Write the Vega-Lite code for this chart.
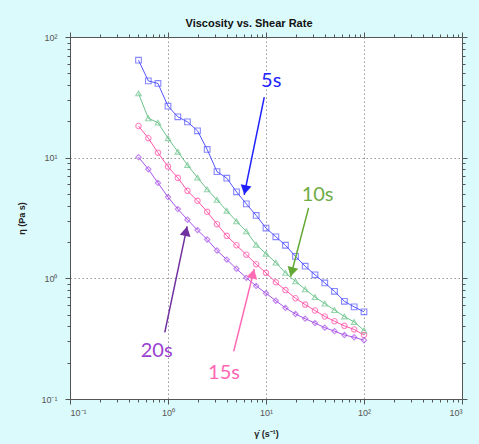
{
  "$schema": "https://vega.github.io/schema/vega-lite/v6.json",
  "autosize": "none",
  "width": 392,
  "height": 362,
  "padding": {"left": 70, "top": 37, "right": 17, "bottom": 45},
  "background": "#dbfafc",
  "title": {"text": "Viscosity vs. Shear Rate", "font": "Liberation Sans", "fontSize": 11, "fontWeight": "bold", "color": "#111", "anchor": "middle", "baseline": "alphabetic", "offset": -6, "dx": -17},
  "config": {
    "view": {"fill": "white", "stroke": "#555", "strokeWidth": 1},
    "axis": {"labelFont": "Liberation Sans", "titleFont": "Liberation Sans", "labelColor": "#555", "labelFontSize": 9, "titleFontSize": 9, "titleFontWeight": "bold", "titleColor": "#222", "domainColor": "#555", "tickColor": "#555", "gridColor": "#999", "gridDash": [1.5, 2.5]}
  },
  "datasets": {
    "visc": [
      {"rate": 0.5, "t": "5s", "eta": 64.2}, {"rate": 0.63, "t": "5s", "eta": 43.3}, {"rate": 0.79, "t": "5s", "eta": 41.2}, {"rate": 1, "t": "5s", "eta": 26.7}, {"rate": 1.26, "t": "5s", "eta": 21.8}, {"rate": 1.58, "t": "5s", "eta": 19.8}, {"rate": 2, "t": "5s", "eta": 16.7}, {"rate": 2.51, "t": "5s", "eta": 11.7}, {"rate": 3.16, "t": "5s", "eta": 7.66}, {"rate": 3.98, "t": "5s", "eta": 6.76}, {"rate": 5, "t": "5s", "eta": 5.21}, {"rate": 6.3, "t": "5s", "eta": 4.14}, {"rate": 7.94, "t": "5s", "eta": 3.32}, {"rate": 10, "t": "5s", "eta": 2.61}, {"rate": 12.6, "t": "5s", "eta": 2.21}, {"rate": 15.8, "t": "5s", "eta": 1.88}, {"rate": 20, "t": "5s", "eta": 1.52}, {"rate": 25.1, "t": "5s", "eta": 1.26}, {"rate": 31.6, "t": "5s", "eta": 1.07}, {"rate": 39.8, "t": "5s", "eta": 0.916}, {"rate": 50, "t": "5s", "eta": 0.781}, {"rate": 63.1, "t": "5s", "eta": 0.645}, {"rate": 79.4, "t": "5s", "eta": 0.58}, {"rate": 100, "t": "5s", "eta": 0.528},
      {"rate": 0.5, "t": "10s", "eta": 34.1}, {"rate": 0.63, "t": "10s", "eta": 21.2}, {"rate": 0.79, "t": "10s", "eta": 19.5}, {"rate": 1, "t": "10s", "eta": 14.5}, {"rate": 1.26, "t": "10s", "eta": 11.2}, {"rate": 1.58, "t": "10s", "eta": 8.7}, {"rate": 2, "t": "10s", "eta": 6.83}, {"rate": 2.51, "t": "10s", "eta": 5.46}, {"rate": 3.16, "t": "10s", "eta": 4.47}, {"rate": 3.98, "t": "10s", "eta": 3.63}, {"rate": 5, "t": "10s", "eta": 2.97}, {"rate": 6.3, "t": "10s", "eta": 2.45}, {"rate": 7.94, "t": "10s", "eta": 1.9}, {"rate": 10, "t": "10s", "eta": 1.6}, {"rate": 12.6, "t": "10s", "eta": 1.35}, {"rate": 15.8, "t": "10s", "eta": 1.11}, {"rate": 20, "t": "10s", "eta": 0.944}, {"rate": 25.1, "t": "10s", "eta": 0.811}, {"rate": 31.6, "t": "10s", "eta": 0.699}, {"rate": 39.8, "t": "10s", "eta": 0.618}, {"rate": 50, "t": "10s", "eta": 0.546}, {"rate": 63.1, "t": "10s", "eta": 0.483}, {"rate": 79.4, "t": "10s", "eta": 0.435}, {"rate": 100, "t": "10s", "eta": 0.37},
      {"rate": 0.5, "t": "15s", "eta": 18.3}, {"rate": 0.63, "t": "15s", "eta": 14.5}, {"rate": 0.79, "t": "15s", "eta": 11.0}, {"rate": 1, "t": "15s", "eta": 8.43}, {"rate": 1.26, "t": "15s", "eta": 6.8}, {"rate": 1.58, "t": "15s", "eta": 5.31}, {"rate": 2, "t": "15s", "eta": 4.39}, {"rate": 2.51, "t": "15s", "eta": 3.56}, {"rate": 3.16, "t": "15s", "eta": 2.81}, {"rate": 3.98, "t": "15s", "eta": 2.25}, {"rate": 5, "t": "15s", "eta": 1.88}, {"rate": 6.3, "t": "15s", "eta": 1.57}, {"rate": 7.94, "t": "15s", "eta": 1.31}, {"rate": 10, "t": "15s", "eta": 1.11}, {"rate": 12.6, "t": "15s", "eta": 0.927}, {"rate": 15.8, "t": "15s", "eta": 0.799}, {"rate": 20, "t": "15s", "eta": 0.684}, {"rate": 25.1, "t": "15s", "eta": 0.606}, {"rate": 31.6, "t": "15s", "eta": 0.541}, {"rate": 39.8, "t": "15s", "eta": 0.483}, {"rate": 50, "t": "15s", "eta": 0.441}, {"rate": 63.1, "t": "15s", "eta": 0.404}, {"rate": 79.4, "t": "15s", "eta": 0.377}, {"rate": 100, "t": "15s", "eta": 0.339},
      {"rate": 0.5, "t": "20s", "eta": 10.1}, {"rate": 0.63, "t": "20s", "eta": 8.02}, {"rate": 0.79, "t": "20s", "eta": 6.18}, {"rate": 1, "t": "20s", "eta": 4.71}, {"rate": 1.26, "t": "20s", "eta": 3.75}, {"rate": 1.58, "t": "20s", "eta": 3.06}, {"rate": 2, "t": "20s", "eta": 2.51}, {"rate": 2.51, "t": "20s", "eta": 2.1}, {"rate": 3.16, "t": "20s", "eta": 1.7}, {"rate": 3.98, "t": "20s", "eta": 1.43}, {"rate": 5, "t": "20s", "eta": 1.2}, {"rate": 6.3, "t": "20s", "eta": 1.01}, {"rate": 7.94, "t": "20s", "eta": 0.865}, {"rate": 10, "t": "20s", "eta": 0.752}, {"rate": 12.6, "t": "20s", "eta": 0.652}, {"rate": 15.8, "t": "20s", "eta": 0.569}, {"rate": 20, "t": "20s", "eta": 0.506}, {"rate": 25.1, "t": "20s", "eta": 0.463}, {"rate": 31.6, "t": "20s", "eta": 0.426}, {"rate": 39.8, "t": "20s", "eta": 0.39}, {"rate": 50, "t": "20s", "eta": 0.365}, {"rate": 63.1, "t": "20s", "eta": 0.339}, {"rate": 79.4, "t": "20s", "eta": 0.325}, {"rate": 100, "t": "20s", "eta": 0.307}
    ],
    "labels": [
      {"t": "5s", "x": 11.3, "y": 43.0},
      {"t": "10s", "x": 33.6, "y": 4.92},
      {"t": "15s", "x": 3.73, "y": 0.163},
      {"t": "20s", "x": 0.766, "y": 0.248}
    ],
    "arrows": [
      {"t": "5s", "x": 9.6, "y": 31.7, "x2": 5.99, "y2": 4.92, "hx": 6.13, "hy": 5.4, "angle": 191.5},
      {"t": "10s", "x": 27.2, "y": 3.84, "x2": 17.8, "y2": 1.03, "hx": 18.3, "hy": 1.13, "angle": 194.7},
      {"t": "15s", "x": 4.68, "y": 0.248, "x2": 7.59, "y2": 1.196, "hx": 7.37, "hy": 1.09, "angle": 13.9},
      {"t": "20s", "x": 0.927, "y": 0.356, "x2": 1.567, "y2": 2.7, "hx": 1.53, "hy": 2.46, "angle": 11.8}
    ]
  },
  "resolve": {"scale": {"color": "independent"}, "axis": {"x": "independent", "y": "independent"}},
  "layer": [
    {
      "data": {"name": "visc"},
      "mark": {"type": "line", "strokeWidth": 1, "clip": true},
      "encoding": {
        "x": {"field": "rate", "type": "quantitative", "scale": {"type": "log", "domain": [0.1, 1000], "nice": false},
          "axis": {"orient": "top", "labels": false, "grid": false, "title": null, "domain": false,
            "values": [0.1,0.2,0.3,0.4,0.5,0.6,0.7,0.8,0.9,1,2,3,4,5,6,7,8,9,10,20,30,40,50,60,70,80,90,100,200,300,400,500,600,700,800,900,1000],
            "tickSize": {"condition": {"test": "indexof([0.1,1,10,100,1000], datum.value) >= 0", "value": 5}, "value": 3}}},
        "y": {"field": "eta", "type": "quantitative", "scale": {"type": "log", "domain": [0.1, 100], "nice": false},
          "axis": {"orient": "right", "labels": false, "grid": false, "title": null, "domain": false,
            "values": [0.1,0.2,0.3,0.4,0.5,0.6,0.7,0.8,0.9,1,2,3,4,5,6,7,8,9,10,20,30,40,50,60,70,80,90,100],
            "tickSize": {"condition": {"test": "indexof([0.1,1,10,100], datum.value) >= 0", "value": 5}, "value": 3}}},
        "color": {"field": "t", "type": "nominal", "scale": {"domain": ["5s", "10s", "15s", "20s"], "range": ["#5555ff", "#6cc48c", "#ff55aa", "#a855e8"]}, "legend": null},
        "order": {"field": "rate", "type": "quantitative"}
      }
    },
    {
      "data": {"name": "visc"},
      "mark": {"type": "point", "filled": false, "strokeWidth": 1.1},
      "encoding": {
        "x": {"field": "rate", "type": "quantitative", "scale": {"type": "log", "domain": [0.1, 1000], "nice": false},
          "axis": {"orient": "bottom", "title": "γ̇ (s⁻¹)", "titlePadding": 12, "labelPadding": 4, "grid": true,
            "values": [0.1,0.2,0.3,0.4,0.5,0.6,0.7,0.8,0.9,1,2,3,4,5,6,7,8,9,10,20,30,40,50,60,70,80,90,100,200,300,400,500,600,700,800,900,1000],
            "labelExpr": "datum.value == 0.1 ? '10⁻¹' : datum.value == 1 ? '10⁰' : datum.value == 10 ? '10¹' : datum.value == 100 ? '10²' : datum.value == 1000 ? '10³' : ''",
            "tickSize": {"condition": {"test": "indexof([0.1,1,10,100,1000], datum.value) >= 0", "value": 5}, "value": 3},
            "gridOpacity": {"condition": {"test": "indexof([1,10,100], datum.value) >= 0", "value": 1}, "value": 0}}},
        "y": {"field": "eta", "type": "quantitative", "scale": {"type": "log", "domain": [0.1, 100], "nice": false},
          "axis": {"orient": "left", "title": "η (Pa s)", "titlePadding": 14, "labelPadding": 8, "grid": true,
            "values": [0.1,0.2,0.3,0.4,0.5,0.6,0.7,0.8,0.9,1,2,3,4,5,6,7,8,9,10,20,30,40,50,60,70,80,90,100],
            "labelExpr": "datum.value == 0.1 ? '10⁻¹' : datum.value == 1 ? '10⁰' : datum.value == 10 ? '10¹' : datum.value == 100 ? '10²' : ''",
            "tickSize": {"condition": {"test": "indexof([0.1,1,10,100], datum.value) >= 0", "value": 5}, "value": 3},
            "gridOpacity": {"condition": {"test": "indexof([1,10], datum.value) >= 0", "value": 1}, "value": 0}}},
        "color": {"field": "t", "type": "nominal", "scale": {"domain": ["5s", "10s", "15s", "20s"], "range": ["#5555ff", "#6cc48c", "#ff55aa", "#a855e8"]}, "legend": null},
        "shape": {"field": "t", "type": "nominal", "scale": {"domain": ["5s", "10s", "15s", "20s"], "range": ["square", "triangle-up", "circle", "diamond"]}, "legend": null},
        "size": {"field": "t", "type": "nominal", "scale": {"domain": ["5s", "10s", "15s", "20s"], "range": [32, 28, 28, 20]}, "legend": null}
      }
    },
    {
      "data": {"name": "arrows"},
      "mark": {"type": "rule", "strokeWidth": 1.5},
      "encoding": {
        "x": {"field": "x", "type": "quantitative", "axis": null},
        "y": {"field": "y", "type": "quantitative", "axis": null},
        "x2": {"field": "x2"},
        "y2": {"field": "y2"},
        "color": {"field": "t", "type": "nominal", "scale": {"domain": ["5s", "10s", "15s", "20s"], "range": ["#2020ff", "#62a832", "#ff6ab5", "#7030a0"]}, "legend": null}
      }
    },
    {
      "data": {"name": "arrows"},
      "mark": {"type": "point", "shape": "triangle-up", "filled": true, "size": 120, "opacity": 1},
      "encoding": {
        "x": {"field": "hx", "type": "quantitative", "axis": null},
        "y": {"field": "hy", "type": "quantitative", "axis": null},
        "angle": {"field": "angle", "type": "quantitative", "scale": null},
        "color": {"field": "t", "type": "nominal", "scale": {"domain": ["5s", "10s", "15s", "20s"], "range": ["#2020ff", "#62a832", "#ff6ab5", "#7030a0"]}, "legend": null}
      }
    },
    {
      "data": {"name": "labels"},
      "mark": {"type": "text", "font": "Lato", "fontSize": 20, "align": "center", "baseline": "middle"},
      "encoding": {
        "x": {"field": "x", "type": "quantitative", "axis": null},
        "y": {"field": "y", "type": "quantitative", "axis": null},
        "text": {"field": "t"},
        "color": {"field": "t", "type": "nominal", "scale": {"domain": ["5s", "10s", "15s", "20s"], "range": ["#2222ff", "#70ad47", "#ff66b3", "#9a3fd0"]}, "legend": null}
      }
    }
  ]
}
